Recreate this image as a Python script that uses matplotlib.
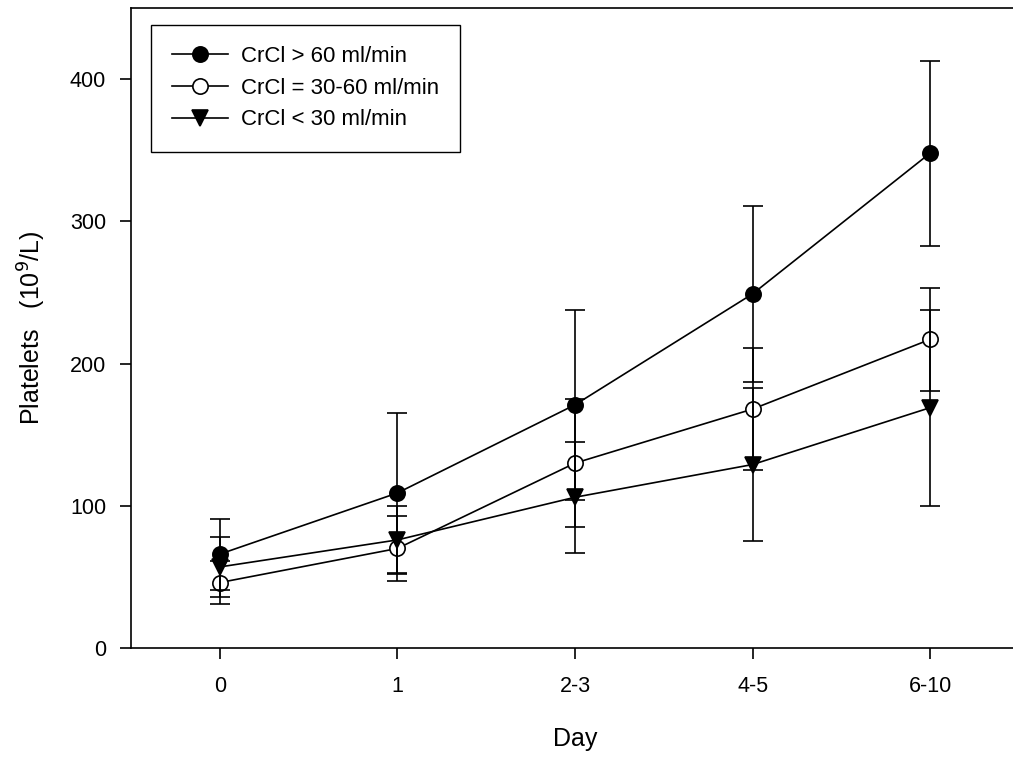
import numpy as np
import matplotlib
matplotlib.use("Agg")
import matplotlib.pyplot as plt

plt.rcParams['font.family'] = ['Liberation Sans', 'DejaVu Sans']

# Data
days = ["0", "1", "2-3", "4-5", "6-10"]

crcl_high = [66, 109, 171, 249, 348]      # CrCl > 60 ml/min
crcl_high_err = [25, 56, 67, 62, 65]

crcl_mid = [46, 70, 130, 168, 217]        # CrCl = 30-60 ml/min
crcl_mid_err = [15, 23, 45, 43, 36]

crcl_low = [57, 76, 106, 129, 169]        # CrCl < 30 ml/min
crcl_low_err = [21, 24, 39, 54, 69]

labels = ["CrCl > 60 ml/min", "CrCl = 30-60 ml/min", "CrCl < 30 ml/min"]

fig = plt.figure(figsize=(10.13, 7.59), dpi=100)
ax = fig.add_axes([131 / 1013, 1 - 648 / 759, (1019 - 131) / 1013, (648 - 8) / 759])

x = np.arange(len(days))
series = [
    (crcl_high, crcl_high_err, dict(marker='o', mfc='black', mec='black')),
    (crcl_mid, crcl_mid_err, dict(marker='o', mfc='white', mec='black')),
    (crcl_low, crcl_low_err, dict(marker='v', mfc='black', mec='black')),
]

for (vals, errs, style), lab in zip(series, labels):
    ax.errorbar(x, vals, yerr=errs, fmt='none', ecolor='black',
                elinewidth=1.2, capsize=7, capthick=1.2, zorder=3)
    ax.plot(x, vals, color='black', linewidth=1.2, markersize=11,
            markeredgewidth=1.2, label=lab, zorder=2, **style)

ax.set_xlim(-0.5, 4.5)
ax.set_ylim(0, 450)
ax.set_xticks(x)
ax.set_xticklabels(days)
ax.set_yticks([0, 100, 200, 300, 400])

for s in ax.spines.values():
    s.set_linewidth(1.2)
ax.tick_params(direction='out', length=8, width=1.2, labelsize=15.5)
ax.tick_params(axis='x', pad=12)
ax.tick_params(axis='y', pad=10)

ax.set_xlabel("Day", fontsize=18, labelpad=22)
ax.set_ylabel("Platelets   (10$^9$/L)", fontsize=18, labelpad=16)

leg = ax.legend(loc='upper left', bbox_to_anchor=(151 / 1013, 1 - 25 / 759),
                bbox_transform=fig.transFigure, fancybox=False, framealpha=1,
                edgecolor='black', fontsize=16, handlelength=2.5,
                borderpad=0.95, labelspacing=0.48, handletextpad=0.6,
                borderaxespad=0)
leg.get_frame().set_linewidth(1.0)

fig.savefig("out.png", dpi=100)
